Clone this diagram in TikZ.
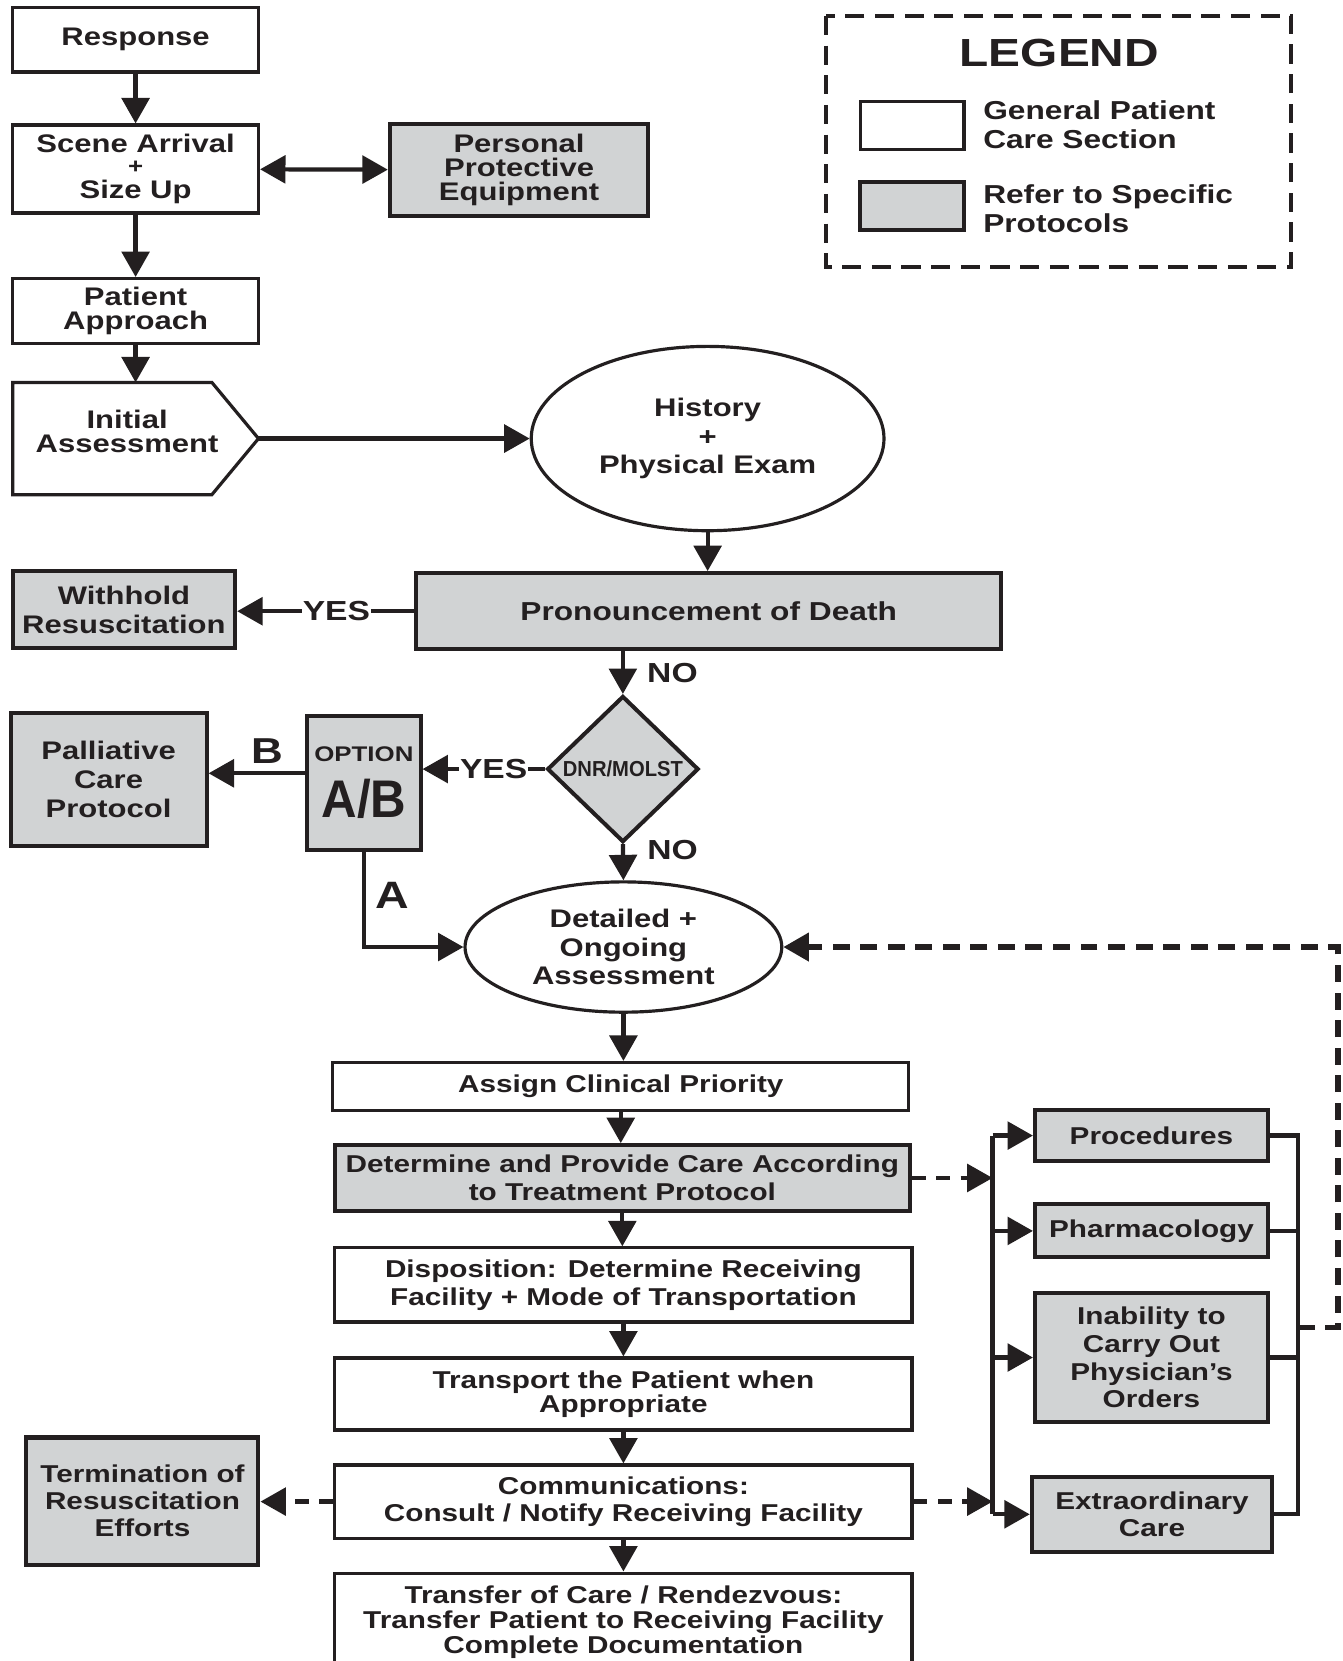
\documentclass[tikz,border=0pt]{standalone}
\usepackage{fontspec}
\setmainfont{Liberation Sans}[FakeStretch=1.22]
\newfontfamily\narrowfont{Liberation Sans}[FakeStretch=0.93]
\usetikzlibrary{arrows.meta,shapes.geometric}
\definecolor{boxgray}{HTML}{D1D3D4}
\definecolor{ink}{HTML}{231F20}
\begin{document}
\begin{tikzpicture}[x=1pt,y=-1pt,
	box/.style={draw=ink, line width=3pt, fill=white, text=ink, inner sep=0pt, align=center,
		font=\fontsize{24pt}{27pt}\selectfont\bfseries},
	grey/.style={box, fill=boxgray, line width=3.8pt},
	tight/.style={font=\fontsize{24pt}{22.5pt}\selectfont\bfseries},
	low/.style={font=\fontsize{23pt}{26pt}\selectfont\bfseries},
	flow/.style={draw=ink, line width=4pt, -{Triangle[length=24pt,width=26pt]}},
	dflow/.style={flow, dash pattern=on 13pt off 10pt},
	tag/.style={text=ink, fill=white, inner sep=1pt, font=\fontsize{26pt}{26pt}\selectfont\bfseries}]
	\path[use as bounding box, fill=white] (0,0) rectangle (1267,1568);
	% legend
	\draw[ink, line width=3.8pt, dash pattern=on 18pt off 10pt] (780,15) rectangle (1219,252);
	\node[text=ink, font=\fontsize{37pt}{37pt}\selectfont\bfseries] (legend) at (1000,50) {LEGEND};
	\node[box, minimum width=98pt, minimum height=45pt] (keyw) at (861,118.5) {};
	\node[grey, line width=3.5pt, minimum width=98pt, minimum height=45pt] (keyg) at (861,194.5) {};
	\node[anchor=west, align=left, inner sep=0pt, text=ink,
		font=\fontsize{24.5pt}{27pt}\selectfont\bfseries] (keywtxt) at (928,118) {General Patient\\Care Section};
	\node[anchor=west, align=left, inner sep=0pt, text=ink,
		font=\fontsize{24.5pt}{27pt}\selectfont\bfseries] (keygtxt) at (928,197) {Refer to Specific\\Protocols};
	% left column
	\node[box, minimum width=232pt, minimum height=61pt] (resp) at (128,37.5) {Response};
	\node[box, minimum width=232pt, minimum height=83pt] (scene) at (128,159.5)
		{Scene Arrival\\[-7pt]{\fontsize{20pt}{20pt}\selectfont+}\\[-3pt]Size Up};
	\node[grey, tight, minimum width=244pt, minimum height=87pt] (ppe) at (490,160.5) {Personal\\Protective\\Equipment};
	\node[box, tight, minimum width=232pt, minimum height=61pt] (appr) at (128,293.5) {Patient\\Approach};
	\draw[ink, line width=3pt, fill=white] (12,361) -- (200,361) -- (244,414) -- (200,467) -- (12,467) -- cycle;
	\node[box, tight, draw=none, fill=none] (init) at (120,407) {Initial\\Assessment};
	\coordinate (inittip) at (244,414);
	\node[box, ellipse, minimum width=333pt, minimum height=174pt] (hist) at (668,414) {History\\+\\Physical Exam};
	\node[grey, font=\fontsize{24.5pt}{27pt}\selectfont\bfseries,
		minimum width=552pt, minimum height=72pt] (pron) at (669,577) {Pronouncement of Death};
	\node[grey, minimum width=210pt, minimum height=73pt] (withh) at (117,575.5) {Withhold\\Resuscitation};
	\node[grey, diamond, minimum width=143pt, minimum height=138pt,
		font=\narrowfont\fontsize{20.5pt}{20pt}\selectfont\bfseries] (dnr) at (588,726) {DNR/MOLST};
	\node[grey, minimum width=107pt, minimum height=126pt] (opt) at (343.5,739)
		{{\fontsize{20pt}{20pt}\selectfont OPTION}\\[15pt]{\narrowfont\fontsize{50pt}{50pt}\selectfont\bfseries A/B}};
	\node[grey, font=\fontsize{24pt}{27.5pt}\selectfont\bfseries,
		minimum width=185pt, minimum height=126pt] (pall) at (102.5,736) {Palliative\\Care\\Protocol};
	\node[box, ellipse, minimum width=299pt, minimum height=123pt] (det) at (588.5,894) {Detailed +\\Ongoing\\Assessment};
	% main column
	\node[box, low, minimum width=544pt, minimum height=45pt] (assign) at (586,1025.5) {Assign Clinical Priority};
	\node[grey, low, minimum width=543pt, minimum height=62pt] (detm) at (587.5,1112) {Determine and Provide Care According\\to Treatment Protocol};
	\node[box, low, minimum width=545pt, minimum height=70pt] (disp) at (588.5,1213) {Disposition: Determine Receiving\\Facility + Mode of Transportation};
	\node[box, font=\fontsize{23pt}{22pt}\selectfont\bfseries,
		minimum width=545pt, minimum height=68pt] (trans) at (588.5,1316) {Transport the Patient when\\Appropriate};
	\node[box, font=\fontsize{23pt}{25pt}\selectfont\bfseries,
		minimum width=545pt, minimum height=69pt] (comm) at (588.5,1417.5) {Communications:\\Consult / Notify Receiving Facility};
	\node[box, font=\fontsize{23pt}{23.5pt}\selectfont\bfseries,
		minimum width=545pt, minimum height=92pt] (xfer) at (588.5,1531) {Transfer of Care / Rendezvous:\\Transfer Patient to Receiving Facility\\Complete Documentation};
	\node[grey, font=\fontsize{23pt}{25.5pt}\selectfont\bfseries,
		minimum width=219pt, minimum height=120pt] (term) at (134.5,1417) {Termination of\\Resuscitation\\Efforts};
	% right column
	\node[grey, low, minimum width=220pt, minimum height=48pt] (proc) at (1087,1072) {Procedures};
	\node[grey, low, minimum width=220pt, minimum height=50pt] (pharm) at (1087,1162) {Pharmacology};
	\node[grey, low, minimum width=220pt, minimum height=121pt] (inab) at (1087,1281.5) {Inability to\\Carry Out\\Physician’s\\Orders};
	\node[grey, low, minimum width=227pt, minimum height=71pt] (extra) at (1087.5,1429.5) {Extraordinary\\Care};
	\coordinate (bl) at (937,1253);
	\coordinate (brx) at (1225,1253);
	\coordinate (fb) at (1263,1253);
	% connectors
	\draw[flow] (resp) -- (scene);
	\draw[flow, {Triangle[length=24pt,width=26pt]}-{Triangle[length=24pt,width=26pt]}] (scene) -- (ppe);
	\draw[flow] (scene) -- (appr);
	\draw[flow] (appr.south) -- (appr.south |- 0,361);
	\draw[flow] (inittip) -- (hist.west);
	\draw[flow] (hist.south) -- (hist.south |- pron.north);
	\draw[flow] (pron.west) -- node[tag, pos=0.44] {YES} (pron.west -| withh.east);
	\draw[flow] (pron.south -| dnr.north) -- node[tag, anchor=west, xshift=20pt] {NO} (dnr.north);
	\draw[flow] (dnr.west) -- node[tag, pos=0.42] {YES} (dnr.west -| opt.east);
	\draw[flow] ([yshift=9pt]opt.west) -- node[tag, fill=none, pos=0.39, above=6pt,
		font=\fontsize{34pt}{34pt}\selectfont\bfseries] {B} ([yshift=9pt]opt.west -| pall.east);
	\draw[flow] (opt.south) |- node[tag, fill=none, pos=0.23, anchor=west, xshift=8pt,
		font=\fontsize{36pt}{36pt}\selectfont\bfseries] {A} (det.west);
	\draw[flow] (dnr.south) -- node[tag, pos=0.15, anchor=west, xshift=20pt] {NO} (det.north);
	\draw[flow] (det.south) -- (det.south |- assign.north);
	\draw[flow] (assign.south) -- (assign.south |- detm.north);
	\draw[flow] (detm.south) -- (detm.south |- disp.north);
	\draw[flow] (disp.south) -- (disp.south |- trans.north);
	\draw[flow] (trans.south) -- (trans.south |- comm.north);
	\draw[flow] (comm.south) -- (comm.south |- xfer.north);
	\draw[dflow] (detm.east) -- (detm.east -| bl);
	\draw[dflow] (comm.east) -- (comm.east -| bl);
	\draw[dflow] (comm.west) -- (comm.west -| term.east);
	\draw[ink, line width=4pt] (proc.west -| bl) -- (extra.west -| bl);
	\draw[flow] (proc.west -| bl) -- (proc.west);
	\draw[flow] (pharm.west -| bl) -- (pharm.west);
	\draw[flow] (inab.west -| bl) -- (inab.west);
	\draw[flow] (extra.west -| bl) -- (extra.west);
	\draw[ink, line width=4pt] (proc.east) -- (proc.east -| brx) -- (extra.east -| brx) -- (extra.east);
	\draw[ink, line width=4pt] (pharm.east) -- (pharm.east -| brx);
	\draw[ink, line width=4pt] (inab.east) -- (inab.east -| brx);
	\draw[flow, line width=5pt, dash pattern=on 16pt off 10pt] (brx) -- (fb) |- (det.east);
\end{tikzpicture}
\end{document}
